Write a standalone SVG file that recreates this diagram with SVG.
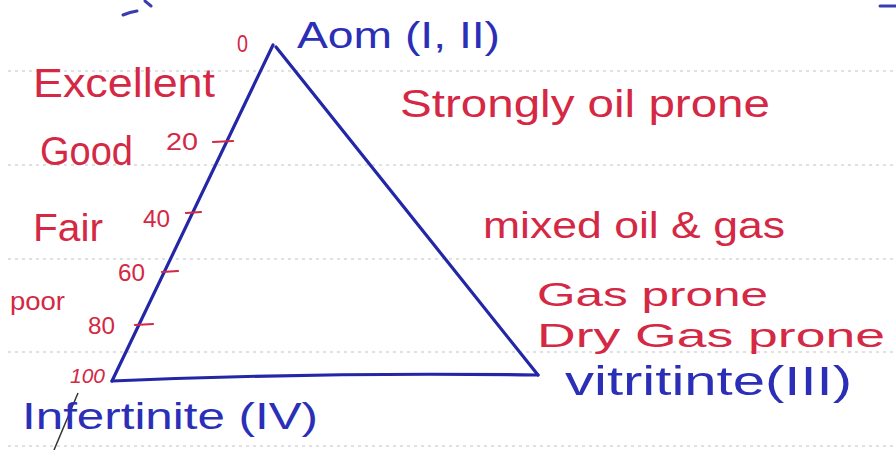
<svg xmlns="http://www.w3.org/2000/svg" width="896" height="450" viewBox="0 0 896 450">
<style>
.rule{stroke:#c0c4c8;stroke-width:1.2;stroke-dasharray:3 4;fill:none}
.red{fill:#d42845;font-family:"Liberation Sans","DejaVu Sans",sans-serif}
.blue{fill:#2b2fb8;font-family:"Liberation Sans","DejaVu Sans",sans-serif}
.edge{stroke:#2426a8;stroke-width:3.2;fill:none;stroke-linecap:round;stroke-linejoin:round}
.tick{stroke:#d42845;stroke-width:2.2;fill:none;stroke-linecap:round}
.stray{stroke:#3a3cb0;stroke-width:3;fill:none;stroke-linecap:round}
</style>
<rect width="896" height="450" fill="#ffffff"/>
<g id="ruled-lines">
<line class="rule" x1="8" y1="71" x2="896" y2="71"/>
<line class="rule" x1="8" y1="165" x2="896" y2="165"/>
<line class="rule" x1="8" y1="259" x2="896" y2="259"/>
<line class="rule" x1="8" y1="352" x2="896" y2="352"/>
<line class="rule" x1="8" y1="446" x2="896" y2="446"/>
</g>
<g id="strays">
<path class="stray" d="M123,15 Q130,12 137,11"/>
<path class="stray" d="M145,1 L151,6"/>
<path class="stray" d="M880,6 L896,6"/>
<path d="M78,393 L54,450" stroke="#333" stroke-width="1.5" fill="none"/>
</g>
<g id="connectors">
<line class="edge" x1="273" y1="45" x2="112" y2="381"/>
<line class="edge" x1="276" y1="47" x2="538" y2="375"/>
<path class="edge" d="M112,381 Q320,372 538,375"/>
</g>
<g id="scale">
<text class="red" x="237" y="52" font-size="24" textLength="11" lengthAdjust="spacingAndGlyphs">0</text>
<line class="tick" x1="213" y1="142" x2="233" y2="141"/>
<text class="red" x="166" y="150" font-size="24" textLength="32" lengthAdjust="spacingAndGlyphs">20</text>
<line class="tick" x1="186" y1="213" x2="201" y2="212"/>
<text class="red" x="143" y="227" font-size="24" textLength="27" lengthAdjust="spacingAndGlyphs">40</text>
<line class="tick" x1="162" y1="272" x2="178" y2="271"/>
<text class="red" x="118" y="281" font-size="24" textLength="27" lengthAdjust="spacingAndGlyphs">60</text>
<line class="tick" x1="135" y1="325" x2="153" y2="324"/>
<text class="red" x="88" y="334" font-size="24" textLength="27" lengthAdjust="spacingAndGlyphs">80</text>
<text class="red" x="70" y="383" font-size="20" textLength="35" lengthAdjust="spacingAndGlyphs" font-style="italic">100</text>
</g>
<g id="quality">
<text class="red" x="33" y="97" font-size="40" textLength="182" lengthAdjust="spacingAndGlyphs">Excellent</text>
<text class="red" x="40" y="165" font-size="40" textLength="93" lengthAdjust="spacingAndGlyphs">Good</text>
<text class="red" x="33" y="241" font-size="38" textLength="70" lengthAdjust="spacingAndGlyphs">Fair</text>
<text class="red" x="10" y="310" font-size="26" textLength="55" lengthAdjust="spacingAndGlyphs">poor</text>
</g>
<g id="node-aom">
<text class="blue" x="297" y="48" font-size="36" textLength="203" lengthAdjust="spacingAndGlyphs">Aom (I, II)</text>
</g>
<g id="node-inertinite">
<text class="blue" x="22" y="429" font-size="37" textLength="296" lengthAdjust="spacingAndGlyphs">Infertinite (IV)</text>
</g>
<g id="node-vitrinite">
<text class="blue" x="565" y="395" font-size="40" textLength="287" lengthAdjust="spacingAndGlyphs">vitritinte(III)</text>
</g>
<g id="proneness">
<text class="red" x="400" y="117" font-size="38" textLength="370" lengthAdjust="spacingAndGlyphs">Strongly oil prone</text>
<text class="red" x="483" y="238" font-size="36" textLength="302" lengthAdjust="spacingAndGlyphs">mixed oil &amp; gas</text>
<text class="red" x="537" y="306" font-size="34" textLength="231" lengthAdjust="spacingAndGlyphs">Gas prone</text>
<text class="red" x="537" y="347" font-size="34" textLength="348" lengthAdjust="spacingAndGlyphs">Dry Gas prone</text>
</g>
</svg>
